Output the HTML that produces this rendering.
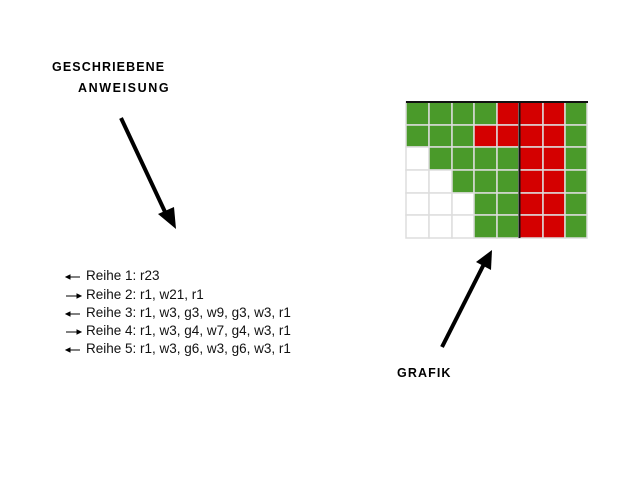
<!DOCTYPE html>
<html><head><style>
body{margin:0;width:640px;height:480px;background:#fff;position:relative;overflow:hidden;font-family:"Liberation Sans",sans-serif}
.lab{position:absolute;font-weight:bold;font-size:12.5px;color:#000;letter-spacing:1.1px}
.li{position:absolute;left:86px;font-size:13.5px;color:#111}
</style></head><body>
<div class="lab" style="left:52px;top:60px">GESCHRIEBENE</div>
<div class="lab" style="left:78px;top:81px;letter-spacing:1.6px">ANWEISUNG</div>
<div class="lab" style="left:397px;top:366px">GRAFIK</div>
<div class="li" style="top:268px">Reihe 1: r23</div>
<div class="li" style="top:287px">Reihe 2: r1, w21, r1</div>
<div class="li" style="top:305px">Reihe 3: r1, w3, g3, w9, g3, w3, r1</div>
<div class="li" style="top:323px">Reihe 4: r1, w3, g4, w7, g4, w3, r1</div>
<div class="li" style="top:341px">Reihe 5: r1, w3, g6, w3, g6, w3, r1</div>
<svg width="640" height="480" style="position:absolute;left:0;top:0">
<g stroke="#000" stroke-width="1" fill="#000">
<line x1="68" y1="277" x2="80" y2="277"/><polygon points="66,277 70,275 70,279"/>
<line x1="66" y1="296" x2="78" y2="296"/><polygon points="81,296 77,294 77,298"/>
<line x1="68" y1="314" x2="80" y2="314"/><polygon points="66,314 70,312 70,316"/>
<line x1="66" y1="332" x2="78" y2="332"/><polygon points="81,332 77,330 77,334"/>
<line x1="68" y1="350" x2="80" y2="350"/><polygon points="66,350 70,348 70,352"/>
</g>
<line x1="121" y1="118" x2="166" y2="214" stroke="#000" stroke-width="4"/>
<polygon points="176,229 158,214 174,207" fill="#000"/>
<line x1="442" y1="347" x2="484" y2="264" stroke="#000" stroke-width="4"/>
<polygon points="492,250 491,270 476,262" fill="#000"/>
<g id="grid"></g>
</svg>
<script>
var xs=[406,429,452,474,497,519,543,565,587],ys=[102,125,147,170,193,215,238];
var rows=["GGGGRRRG","GGGRRRRG","WGGGGRRG","WWGGGRRG","WWWGGRRG","WWWGGRRG"];
var c={G:"#4a9a2a",R:"#d40000",W:"#ffffff"},s="";
for(var r=0;r<6;r++)for(var k=0;k<8;k++){s+='<rect x="'+xs[k]+'" y="'+ys[r]+'" width="'+(xs[k+1]-xs[k])+'" height="'+(ys[r+1]-ys[r])+'" fill="'+c[rows[r][k]]+'" stroke="#ddd" stroke-width="1.5"/>';}
s+='<line x1="406" y1="102" x2="588" y2="102" stroke="#111" stroke-width="2"/><line x1="519.5" y1="102" x2="519.5" y2="238" stroke="#111" stroke-width="2"/>';
document.getElementById("grid").innerHTML=s;
</script>
</body></html>
